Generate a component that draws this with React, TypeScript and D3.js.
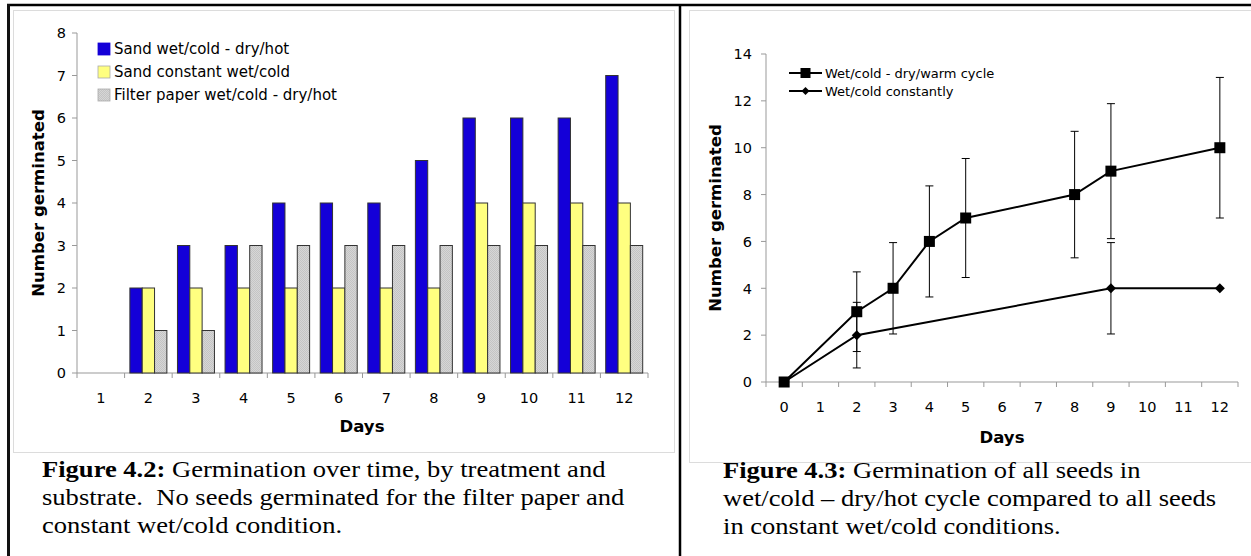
import * as d3 from "d3";

// ---- Figure 4.2 (bars) ----
const barDays = ["1", "2", "3", "4", "5", "6", "7", "8", "9", "10", "11", "12"];
const barSeries = ["Sand wet/cold - dry/hot", "Sand constant wet/cold", "Filter paper wet/cold - dry/hot"];
const sandCycle = [0, 2, 3, 3, 4, 4, 4, 5, 6, 6, 6, 7];
const sandConstant = [0, 2, 2, 2, 2, 2, 2, 2, 4, 4, 4, 4];
const filterCycle = [0, 1, 1, 3, 3, 3, 3, 3, 3, 3, 3, 3];
const barTicks = [0, 1, 2, 3, 4, 5, 6, 7, 8];
const barColors = ["#1400d8", "#ffff80", "url(#dots)"];

// ---- Figure 4.3 (lines) ----
const lineDays = ["0", "1", "2", "3", "4", "5", "6", "7", "8", "9", "10", "11", "12"];
const cycleDays = ["0", "2", "3", "4", "5", "8", "9", "12"];
const cycleValues = [0, 3, 4, 6, 7, 8, 9, 10];
const cycleErr = [0, 1.7, 1.95, 2.37, 2.54, 2.7, 2.88, 3];
const constDays = ["0", "2", "9", "12"];
const constValues = [0, 2, 4, 4];
const constErr = [0, 1.4, 1.95, 0];
const lineTicks = [0, 2, 4, 6, 8, 10, 12, 14];
const lineSeries = ["Wet/cold - dry/warm cycle", "Wet/cold constantly"];

const W = 1251;
const H = 556;
const sans = "'DejaVu Sans', Verdana, sans-serif";
const serif = "'Liberation Serif', 'Times New Roman', serif";

function BarChart() {
  const x = d3.scaleBand().domain(barDays).range([77, 648]);
  const inner = d3.scaleBand().domain(barSeries).range([0, x.bandwidth()]).paddingOuter(0.43);
  const y = d3.scaleLinear().domain([0, 8]).range([373, 33]);
  const rows = [sandCycle, sandConstant, filterCycle];

  return (
    <g>
      <rect x={13.5} y={10.5} width={661} height={442} fill="none" stroke="#dcdcdc" />
      {barTicks.map((t) => (
        <g key={t}>
          <line x1={72} x2={77} y1={y(t)} y2={y(t)} stroke="#999" />
          <text x={66} y={y(t)} dy="0.36em" textAnchor="end" fontSize={14.5} fontFamily={sans}>{t}</text>
        </g>
      ))}
      <line x1={77} x2={77} y1={y(8)} y2={y(0)} stroke="#999" />
      <line x1={77} x2={648} y1={y(0)} y2={y(0)} stroke="#999" />
      {barDays.concat(["end"]).map((d) => {
        const px = d === "end" ? 648 : (x(d) as number);
        return <line key={d} x1={px} x2={px} y1={y(0)} y2={y(0) + 5} stroke="#999" />;
      })}
      {barDays.map((d) => (
        <text key={d} x={(x(d) as number) + x.bandwidth() / 2} y={398} dy="0.36em" textAnchor="middle" fontSize={14.5} fontFamily={sans}>{d}</text>
      ))}
      {barDays.map((d, i) =>
        barSeries.map((s, j) => {
          const v = rows[j][i];
          if (!v) return null;
          return (
            <rect
              key={d + s}
              x={(x(d) as number) + (inner(s) as number)}
              y={y(v)}
              width={inner.bandwidth()}
              height={y(0) - y(v)}
              fill={barColors[j]}
              stroke="#333"
              strokeWidth={1}
            />
          );
        })
      )}
      {barSeries.map((s, j) => (
        <g key={s} transform={`translate(98, ${43 + j * 23})`}>
          <rect width={12} height={12} fill={barColors[j]} stroke={j === 0 ? "#1400d8" : "#aaa"} strokeWidth={0.8} />
          <text x={16} y={6} dy="0.36em" fontSize={15} fontFamily={sans}>{s}</text>
        </g>
      ))}
      <text transform="rotate(-90)" x={-203} y={38} dy="0.36em" textAnchor="middle" fontSize={16.5} fontWeight={700} fontFamily={sans}>Number germinated</text>
      <text x={362} y={426} dy="0.36em" textAnchor="middle" fontSize={16.5} fontWeight={700} fontFamily={sans}>Days</text>
    </g>
  );
}

function LineChart() {
  const x = d3.scaleBand().domain(lineDays).range([766, 1238]);
  const cx = (d: string) => (x(d) as number) + x.bandwidth() / 2;
  const y = d3.scaleLinear().domain([0, 14]).range([382, 54]);
  const line = d3.line<[string, number]>().x((p) => cx(p[0])).y((p) => y(p[1]));
  const cyclePts = cycleDays.map((d, i) => [d, cycleValues[i]] as [string, number]);
  const constPts = constDays.map((d, i) => [d, constValues[i]] as [string, number]);

  const errBars = (days: string[], vals: number[], errs: number[]) =>
    days.map((d, i) => {
      if (!errs[i]) return null;
      const px = cx(d);
      const top = y(vals[i] + errs[i]);
      const bot = y(vals[i] - errs[i]);
      return (
        <g key={d} stroke="#000" strokeWidth={1}>
          <line x1={px} x2={px} y1={top} y2={bot} />
          <line x1={px - 4} x2={px + 4} y1={top} y2={top} />
          <line x1={px - 4} x2={px + 4} y1={bot} y2={bot} />
        </g>
      );
    });

  const square = (px: number, py: number, s: number) => (
    <rect x={px - s / 2} y={py - s / 2} width={s} height={s} fill="#000" />
  );
  const diamond = (px: number, py: number, s: number) => (
    <path d={`M${px},${py - s / 2}L${px + s / 2},${py}L${px},${py + s / 2}L${px - s / 2},${py}Z`} fill="#000" />
  );

  return (
    <g>
      <rect x={689.5} y={10.5} width={570} height={452} fill="none" stroke="#dcdcdc" />
      {lineTicks.map((t) => (
        <g key={t}>
          <line x1={761} x2={766} y1={y(t)} y2={y(t)} stroke="#999" />
          <text x={752} y={y(t)} dy="0.36em" textAnchor="end" fontSize={14.5} fontFamily={sans}>{t}</text>
        </g>
      ))}
      <line x1={766} x2={766} y1={y(14)} y2={y(0)} stroke="#999" />
      <line x1={766} x2={1238} y1={y(0)} y2={y(0)} stroke="#999" />
      {lineDays.concat(["end"]).map((d) => {
        const px = d === "end" ? 1238 : (x(d) as number);
        return <line key={d} x1={px} x2={px} y1={y(0)} y2={y(0) + 5} stroke="#999" />;
      })}
      {lineDays.map((d) => (
        <text key={d} x={cx(d)} y={407} dy="0.36em" textAnchor="middle" fontSize={14.5} fontFamily={sans}>{d}</text>
      ))}
      {errBars(cycleDays, cycleValues, cycleErr)}
      {errBars(constDays, constValues, constErr)}
      <path d={line(cyclePts) as string} fill="none" stroke="#000" strokeWidth={2} />
      <path d={line(constPts) as string} fill="none" stroke="#000" strokeWidth={2} />
      {cyclePts.map((p) => <g key={p[0]}>{square(cx(p[0]), y(p[1]), 11)}</g>)}
      {constPts.map((p) => <g key={p[0]}>{diamond(cx(p[0]), y(p[1]), 10)}</g>)}
      {lineSeries.map((s, j) => (
        <g key={s} transform={`translate(789, ${73 + j * 18})`}>
          <line x1={0} x2={33} y1={0} y2={0} stroke="#000" strokeWidth={2} />
          {j === 0 ? square(16.5, 0, 10) : diamond(16.5, 0, 8)}
          <text x={36} y={0} dy="0.36em" fontSize={13} fontFamily={sans}>{s}</text>
        </g>
      ))}
      <text transform="rotate(-90)" x={-218} y={715} dy="0.36em" textAnchor="middle" fontSize={16.5} fontWeight={700} fontFamily={sans}>Number germinated</text>
      <text x={1002} y={437} dy="0.36em" textAnchor="middle" fontSize={16.5} fontWeight={700} fontFamily={sans}>Days</text>
    </g>
  );
}

// caption text in the source is a little wider than plain Times, so stretch it horizontally
function Caption({ x, y, lines }: { x: number; y: number; lines: string[] }) {
  return (
    <g transform={`translate(${x},${y}) scale(1.155,1)`} fontFamily={serif} fontSize={23}>
      {lines.map((l, i) => (
        <text key={i} x={0} y={i * 28} xmlSpace="preserve">
          {i === 0 ? (
            <>
              <tspan fontWeight={700}>{l.split(":")[0] + ":"}</tspan>
              {l.slice(l.indexOf(":") + 1)}
            </>
          ) : (
            l
          )}
        </text>
      ))}
    </g>
  );
}

export default function App() {
  return (
    <svg width={W} height={H} style={{ position: "absolute", left: 0, top: 0, background: "#fff" }} fontFamily={sans}>
      <defs>
        <pattern id="dots" width={2} height={2} patternUnits="userSpaceOnUse">
          <rect width={2} height={2} fill="#d6d6d6" />
          <rect width={1} height={1} fill="#c4c4c4" />
          <rect x={1} y={1} width={1} height={1} fill="#c4c4c4" />
        </pattern>
      </defs>
      <rect width={W} height={H} fill="#fff" />
      <BarChart />
      <LineChart />
      <rect x={22} y={453} width={624} height={103} fill="#fff" />
      <line x1={7} x2={W} y1={5} y2={5} stroke="#000" strokeWidth={2.5} />
      <line x1={8.5} x2={8.5} y1={4} y2={H} stroke="#111" strokeWidth={3} />
      <line x1={680} x2={680} y1={4} y2={H} stroke="#000" strokeWidth={2.5} />
      <Caption
        x={42}
        y={477}
        lines={[
          "Figure 4.2: Germination over time, by treatment and",
          "substrate.  No seeds germinated for the filter paper and",
          "constant wet/cold condition.",
        ]}
      />
      <Caption
        x={723}
        y={478}
        lines={[
          "Figure 4.3: Germination of all seeds in",
          "wet/cold – dry/hot cycle compared to all seeds",
          "in constant wet/cold conditions.",
        ]}
      />
    </svg>
  );
}
